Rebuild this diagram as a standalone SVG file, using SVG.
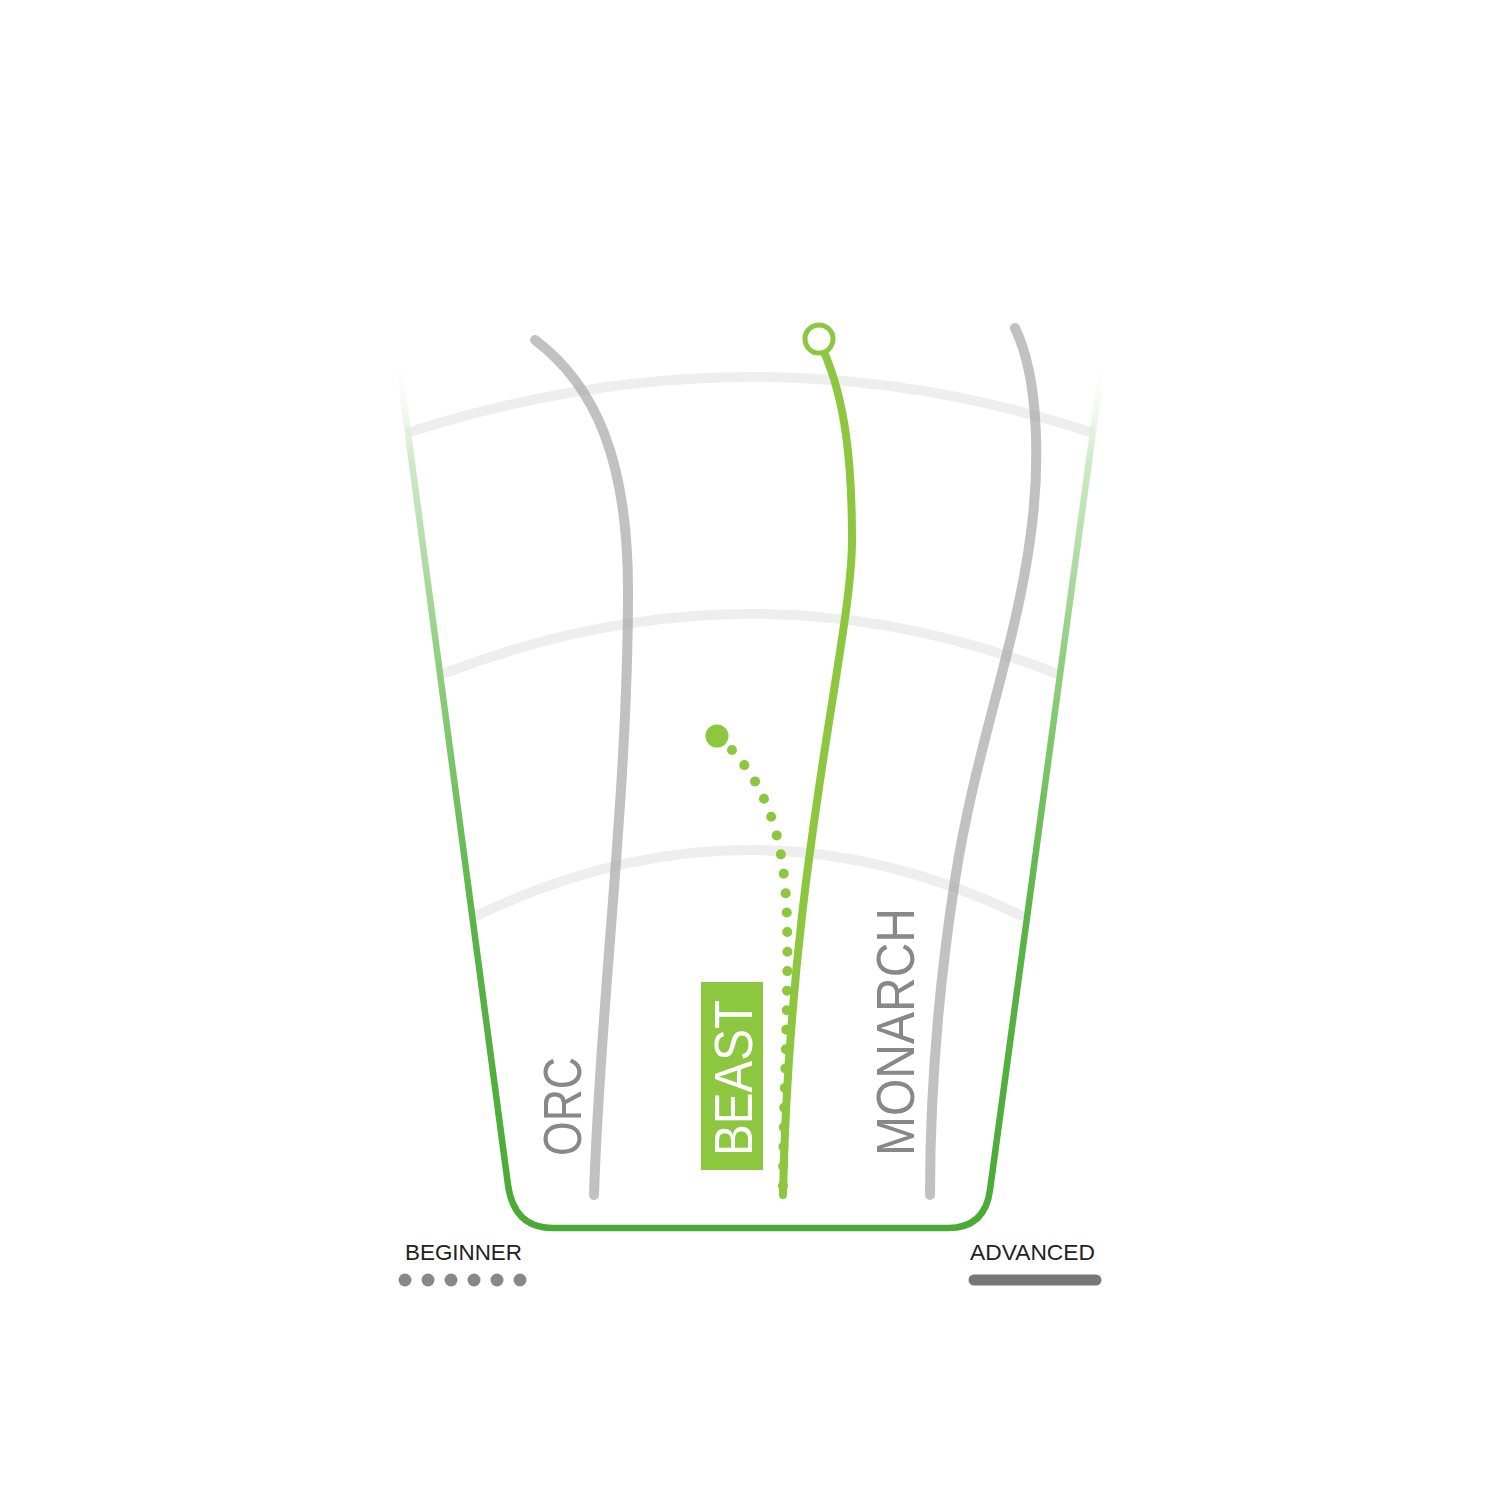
<svg xmlns="http://www.w3.org/2000/svg" width="1500" height="1500" viewBox="0 0 1500 1500">
<defs>
<linearGradient id="frame" gradientUnits="userSpaceOnUse" x1="0" y1="355" x2="0" y2="1230">
<stop offset="0" stop-color="#ffffff" stop-opacity="0"/>
<stop offset="0.12" stop-color="#cfe9c8"/>
<stop offset="0.35" stop-color="#8fcf7f"/>
<stop offset="0.65" stop-color="#5ab447"/>
<stop offset="1" stop-color="#4aaa35"/>
</linearGradient>
<style>
.arc{fill:none;stroke:#eeeeee;stroke-width:10;stroke-linecap:round}
.gray{fill:none;stroke:#a6a6a6;stroke-opacity:0.7;stroke-width:10;stroke-linecap:round}
.lbl{font-family:"Liberation Sans",Arial,sans-serif;font-size:54px}
.small{font-family:"Liberation Sans",Arial,sans-serif;font-size:22px;fill:#222}
</style>
</defs>
<rect width="1500" height="1500" fill="#ffffff"/>
<g id="arcs">
<path class="arc" d="M410,432 Q755,322 1090,432"/>
<path class="arc" d="M445,673 Q752,555 1055,673"/>
<path class="arc" d="M478,915 Q750,785 1020,915"/>
</g>
<g id="frame-outline">
<path d="M398,358 L508,1185 Q514,1228 552,1228 L948,1228 Q985,1228 990,1190 L1103,358" fill="none" stroke="url(#frame)" stroke-width="6.5" stroke-linejoin="round"/>
</g>
<g id="connectors">
<path class="gray" d="M535,340 C595,385 628,460 628,590 C628,800 600,1000 594,1195"/>
<path class="gray" d="M1015,328 C1040,380 1040,470 1030,540 C1015,650 975,750 955,880 C938,990 930,1100 930,1195"/>
<path fill="none" stroke="#8dc63f" stroke-width="8" stroke-linecap="round" d="M824,352 C845,400 852,460 852,540 C852,640 790,860 783,1195"/>
<path fill="none" stroke="#8dc63f" stroke-width="10" stroke-linecap="round" stroke-dasharray="0 19.5" d="M732,750 C768,790 785,840 787,920 C789,1000 783,1100 783,1195"/>
</g>
<g id="beast-top">
<circle cx="819" cy="339" r="14" fill="#ffffff" stroke="#8dc63f" stroke-width="5"/>
</g>
<g id="beast-start">
<circle cx="717" cy="736" r="11.5" fill="#8dc63f"/>
</g>
<g id="orc">
<text class="lbl" fill="#888888" transform="translate(581,1156) rotate(-90)" textLength="99" lengthAdjust="spacingAndGlyphs">ORC</text>
</g>
<g id="beast">
<rect x="701" y="982" width="62" height="188" fill="#8dc63f"/>
<text class="lbl" fill="#ffffff" transform="translate(752,1156) rotate(-90)" textLength="156" lengthAdjust="spacingAndGlyphs">BEAST</text>
</g>
<g id="monarch">
<text class="lbl" fill="#888888" transform="translate(914,1156) rotate(-90)" textLength="248" lengthAdjust="spacingAndGlyphs">MONARCH</text>
</g>
<g id="beginner">
<text class="small" x="405" y="1260" textLength="117" lengthAdjust="spacingAndGlyphs">BEGINNER</text>
<g fill="#888888">
<circle cx="405" cy="1280" r="6.5"/>
<circle cx="428" cy="1280" r="6.5"/>
<circle cx="451" cy="1280" r="6.5"/>
<circle cx="474" cy="1280" r="6.5"/>
<circle cx="497" cy="1280" r="6.5"/>
<circle cx="520" cy="1280" r="6.5"/>
</g>
</g>
<g id="advanced">
<text class="small" x="970" y="1260" textLength="125" lengthAdjust="spacingAndGlyphs">ADVANCED</text>
<line x1="974" y1="1280" x2="1096" y2="1280" stroke="#777777" stroke-width="11" stroke-linecap="round"/>
</g>
</svg>
